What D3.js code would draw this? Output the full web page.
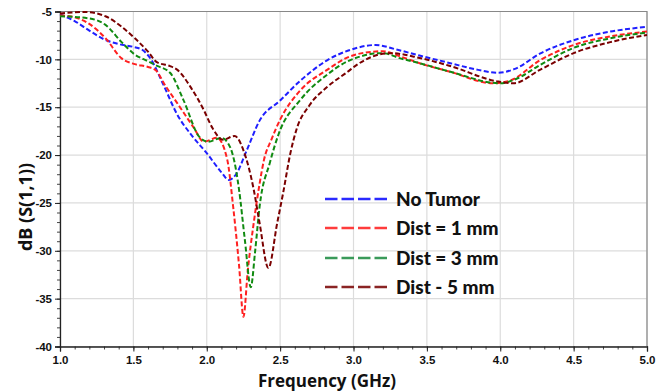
<!DOCTYPE html>
<html>
<head>
<meta charset="utf-8">
<script src="https://cdn.jsdelivr.net/npm/d3@7"></script>
<style>
  body { margin: 0; background: #fff; }
  svg { display: block; }
</style>
</head>
<body>
<svg width="668" height="392"></svg>
<script>
// series names as in the legend
var seriesNames = ["No Tumor", "Dist = 1 mm", "Dist = 3 mm", "Dist - 5 mm"];

// [frequency GHz, dB]
var noTumor = [[1.0,-5.3],[1.1,-6.0],[1.2,-7.0],[1.3,-7.9],[1.4,-8.4],[1.5,-8.7],[1.56,-9.0],[1.62,-10.0],
  [1.7,-12.5],[1.8,-15.8],[1.9,-18.0],[2.0,-19.8],[2.1,-21.8],[2.15,-22.6],[2.2,-22.0],[2.27,-19.6],
  [2.36,-16.4],[2.5,-14.3],[2.64,-12.2],[2.82,-10.1],[2.98,-9.0],[3.15,-8.5],[3.3,-9.0],[3.45,-9.6],
  [3.66,-10.4],[3.85,-11.1],[3.98,-11.4],[4.1,-11.0],[4.27,-9.4],[4.5,-8.0],[4.75,-7.1],[5.0,-6.6]];
var dist1 = [[1.0,-5.4],[1.1,-5.6],[1.19,-6.2],[1.31,-7.8],[1.42,-9.9],[1.51,-10.5],[1.6,-10.8],[1.65,-11.1],
  [1.72,-12.8],[1.8,-14.6],[1.91,-17.1],[1.98,-18.6],[2.07,-18.2],[2.14,-20.5],[2.18,-25.4],[2.22,-31.5],
  [2.25,-36.9],[2.28,-32.0],[2.32,-27.1],[2.36,-23.0],[2.39,-20.5],[2.44,-18.4],[2.5,-16.3],[2.64,-13.2],
  [2.82,-11.1],[2.96,-9.8],[3.13,-9.2],[3.2,-9.15],[3.32,-9.7],[3.45,-10.4],[3.66,-11.3],[3.95,-12.5],
  [4.07,-12.2],[4.27,-10.1],[4.5,-8.5],[4.75,-7.6],[5.0,-7.1]];
var dist3 = [[1.0,-5.5],[1.19,-5.7],[1.31,-6.4],[1.42,-8.2],[1.51,-9.5],[1.6,-10.2],[1.65,-10.6],[1.75,-11.4],
  [1.84,-14.2],[1.95,-18.1],[2.01,-18.6],[2.1,-18.2],[2.16,-19.2],[2.2,-21.6],[2.22,-23.6],[2.26,-28.9],
  [2.3,-33.8],[2.33,-30.0],[2.36,-25.4],[2.43,-20.8],[2.49,-17.8],[2.64,-14.2],[2.82,-11.6],[2.96,-10.2],
  [3.2,-9.35],[3.32,-9.9],[3.45,-10.4],[3.66,-11.3],[4.0,-12.5],[4.1,-12.1],[4.27,-10.6],[4.5,-8.8],
  [4.75,-7.8],[5.0,-7.2]];
var dist5 = [[1.0,-5.2],[1.17,-5.05],[1.31,-5.5],[1.42,-6.6],[1.51,-7.8],[1.6,-9.2],[1.66,-10.3],[1.75,-10.7],
  [1.8,-11.1],[1.89,-12.9],[1.98,-15.3],[2.04,-17.2],[2.11,-18.4],[2.19,-18.0],[2.25,-19.5],[2.32,-23.6],
  [2.36,-27.1],[2.42,-31.8],[2.48,-27.1],[2.52,-24.0],[2.57,-19.8],[2.61,-17.4],[2.7,-14.8],[2.82,-12.9],
  [2.96,-11.3],[3.02,-10.6],[3.25,-9.35],[3.45,-9.85],[3.66,-10.7],[3.98,-12.3],[4.09,-12.5],[4.27,-11.1],
  [4.5,-9.35],[4.75,-8.2],[5.0,-7.45]];

var xTicks = [1.0, 1.5, 2.0, 2.5, 3.0, 3.5, 4.0, 4.5, 5.0];
var yTicks = [-5, -10, -15, -20, -25, -30, -35, -40];

var series = [noTumor, dist1, dist3, dist5];
var lineColors = ["#1f1fff", "#ff2020", "#108a10", "#7a0000"];
var legendColors = ["#2a2aff", "#ff3c3c", "#3a9a5a", "#8a2424"];

var margin = {top: 11.5, right: 21, bottom: 45.5, left: 60};
var svg = d3.select("svg");
var width = 668 - margin.left - margin.right,
    height = 392 - margin.top - margin.bottom;

var x = d3.scaleLinear().domain([1, 5]).range([0, width]);
var y = d3.scaleLinear().domain([-40, -5]).range([height, 0]);

var g = svg.append("g").attr("transform", "translate(" + margin.left + "," + margin.top + ")");

// grid
g.selectAll(".vgrid").data(xTicks).enter().append("line")
  .attr("x1", function(d) { return x(d); }).attr("x2", function(d) { return x(d); })
  .attr("y1", 0).attr("y2", height)
  .attr("stroke", "#dcdcdc").attr("stroke-width", 1.2);
g.selectAll(".hgrid").data(yTicks).enter().append("line")
  .attr("x1", 0).attr("x2", width)
  .attr("y1", function(d) { return y(d); }).attr("y2", function(d) { return y(d); })
  .attr("stroke", "#dcdcdc").attr("stroke-width", 1.2);

// frame top and right
g.append("path").attr("d", "M0,0H" + width + "V" + height)
  .attr("fill", "none").attr("stroke", "#888").attr("stroke-width", 1.2);

// minor ticks
var xMinor = d3.range(1, 5.001, 0.1);
var yMinor = d3.range(-40, -4.999, 1);
g.append("g").attr("transform", "translate(0," + height + ")")
  .call(d3.axisBottom(x).tickValues(xMinor).tickSize(3).tickFormat(""))
  .call(function(a) { a.select(".domain").remove(); a.selectAll("line").attr("stroke", "#444"); });
g.append("g")
  .call(d3.axisLeft(y).tickValues(yMinor).tickSize(3).tickFormat(""))
  .call(function(a) { a.select(".domain").remove(); a.selectAll("line").attr("stroke", "#444"); });

// main axes
var xAxis = g.append("g").attr("transform", "translate(0," + height + ")")
  .call(d3.axisBottom(x).tickValues(xTicks).tickSize(5).tickPadding(4).tickFormat(d3.format(".1f")));
var yAxis = g.append("g")
  .call(d3.axisLeft(y).tickValues(yTicks).tickSize(5).tickPadding(3).tickFormat(function(d) { return d; }));
[xAxis, yAxis].forEach(function(a) {
  a.select(".domain").attr("stroke", "#222").attr("stroke-width", 1.3);
  a.selectAll("line").attr("stroke", "#222");
  a.selectAll("text").attr("font-family", "Liberation Sans, Arial, sans-serif")
    .attr("font-weight", "bold").attr("font-size", 11.5).attr("fill", "#111");
});

// curves
var line = d3.line()
  .x(function(d) { return x(d[0]); })
  .y(function(d) { return y(d[1]); })
  .curve(d3.curveMonotoneX);

g.selectAll(".curve").data(series).enter().append("path")
  .attr("d", line)
  .attr("fill", "none")
  .attr("stroke", function(d, i) { return lineColors[i]; })
  .attr("stroke-width", 2)
  .attr("stroke-dasharray", "5,2.5");

// legend
var legend = svg.append("g").selectAll("g").data(seriesNames).enter().append("g")
  .attr("transform", function(d, i) { return "translate(325," + [199, 228, 258, 287][i] + ")"; });
legend.append("line")
  .attr("x1", 0).attr("x2", 64).attr("y1", 0).attr("y2", 0)
  .attr("stroke", function(d, i) { return legendColors[i]; })
  .attr("stroke-width", 2.4)
  .attr("stroke-dasharray", "12.5,4");
legend.append("text")
  .attr("x", 71).attr("y", 6.5)
  .attr("font-family", "Lato, sans-serif").attr("font-weight", 900).attr("font-size", 19)
  .attr("fill", "#111")
  .text(function(d) { return d; });

// axis titles
svg.append("text")
  .attr("x", 327).attr("y", 387)
  .attr("text-anchor", "middle")
  .attr("font-family", "Open Sans, sans-serif").attr("font-weight", "bold").attr("font-size", 17)
  .attr("fill", "#111")
  .text("Frequency (GHz)");
svg.append("text")
  .attr("transform", "translate(32,207) rotate(-90)")
  .attr("text-anchor", "middle")
  .attr("font-family", "Open Sans, sans-serif").attr("font-weight", "bold").attr("font-size", 18)
  .attr("fill", "#111")
  .text("dB (S(1,1))");
</script>
</body>
</html>
